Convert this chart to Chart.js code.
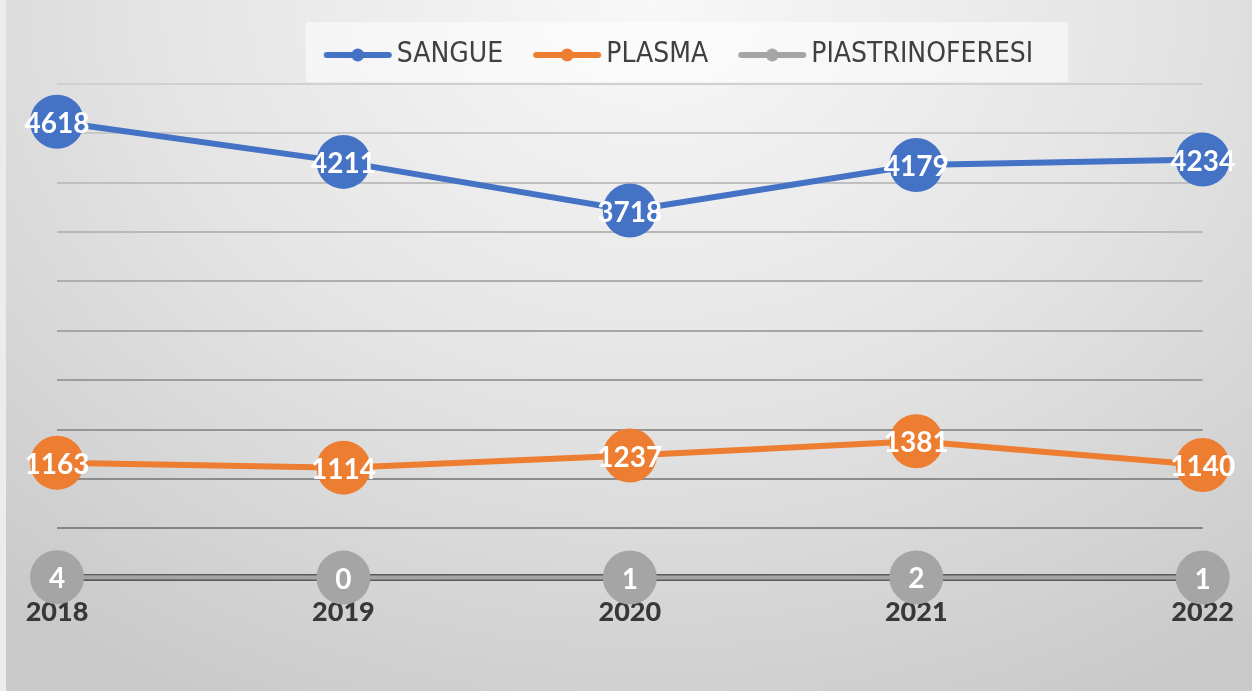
<!DOCTYPE html>
<html>
<head>
<meta charset="utf-8">
<script src="https://cdn.jsdelivr.net/npm/chart.js@4.4.1/dist/chart.umd.min.js"></script>
<style>
  html, body { margin: 0; padding: 0; }
  #wrap {
    position: relative;
    width: 1252px;
    height: 691px;
    background: radial-gradient(ellipse 80% 115% at 52% 0%, #f8f8f8 0%, #e4e4e4 50%, #c9c9c9 100%);
  }
  #wrap:before {
    content: "";
    position: absolute; left: 0; top: 0; bottom: 0; width: 6px;
    background: #ececec;
  }
  canvas { position: absolute; left: 0; top: 0; }
</style>
</head>
<body>
<div id="wrap"><canvas id="chart" width="1252" height="691"></canvas></div>
<script>
var anni = ['2018', '2019', '2020', '2021', '2022'];
var sangue = [4618, 4211, 3718, 4179, 4234];
var plasma = [1163, 1114, 1237, 1381, 1140];
var piastrinoferesi = [4, 0, 1, 2, 1];
var nomiSerie = ['SANGUE', 'PLASMA', 'PIASTRINOFERESI'];
var coloriSerie = ['#4472C4', '#ED7D31', '#A5A5A5'];
var yMin = 0, yMax = 5000, yStep = 500;

// marker for the legend: line with a dot in the middle
function legendMarker(color) {
    var c = document.createElement('canvas');
    c.width = 70; c.height = 16;
    var g = c.getContext('2d');
    g.strokeStyle = color;
    g.lineWidth = 6;
    g.lineCap = 'round';
    g.beginPath(); g.moveTo(4, 8); g.lineTo(66, 8); g.stroke();
    g.fillStyle = color;
    g.beginPath(); g.arc(35, 8, 6.5, 0, Math.PI * 2); g.fill();
    return c;
}

function gridShade(v) {
    var t = (v - yStep) / (yMax - yStep);
    var g = Math.round(132 + t * (208 - 132));
    return 'rgb(' + g + ',' + g + ',' + g + ')';
}

var valueLabels = {
    id: 'valueLabels',
    afterDatasetsDraw: function (chart) {
        var ctx = chart.ctx;
        ctx.save();
        ctx.font = '700 28px Lato';
        ctx.fillStyle = '#ffffff';
        ctx.textAlign = 'center';
        ctx.textBaseline = 'middle';
        chart.data.datasets.forEach(function (ds, i) {
            var meta = chart.getDatasetMeta(i);
            meta.data.forEach(function (el, j) {
                ctx.fillText(String(ds.data[j]), el.x, el.y + 2);
            });
        });
        ctx.restore();
    }
};

var legendBox = {
    id: 'legendBox',
    afterLayout: function (chart) {
        var lg = chart.legend;
        lg.left += 52; lg.right += 52;
        lg.top -= 5; lg.bottom -= 5;
    },
    beforeDraw: function (chart) {
        var lg = chart.legend;
        var hb = lg.legendHitBoxes;
        if (!hb || !hb.length) return;
        var last = hb[hb.length - 1];
        var ctx = chart.ctx;
        ctx.save();
        ctx.fillStyle = 'rgba(255,255,255,0.5)';
        ctx.fillRect(hb[0].left - 27, 22, last.left + last.width - hb[0].left + 62, 60);
        ctx.restore();
    }
};

var datasets = [sangue, plasma, piastrinoferesi].map(function (d, i) {
    return {
        label: nomiSerie[i],
        data: d,
        borderColor: coloriSerie[i],
        backgroundColor: coloriSerie[i],
        pointBackgroundColor: coloriSerie[i],
        pointBorderWidth: 0,
        pointRadius: 27,
        pointHoverRadius: 27,
        borderWidth: i === 2 ? 4 : 6,
        tension: 0,
        clip: false
    };
});

new Chart(document.getElementById('chart').getContext('2d'), {
    type: 'line',
    data: { labels: anni, datasets: datasets },
    options: {
        responsive: false,
        animation: false,
        layout: { padding: { left: 57, right: 47, top: 7, bottom: 45 } },
        plugins: {
            tooltip: { enabled: false },
            legend: {
                position: 'top',
                labels: {
                    usePointStyle: true,
                    pointStyleWidth: 50,
                    padding: 39,
                    color: '#404040',
                    font: { family: '"Liberation Sans Narrow", "DejaVu Sans Condensed", "Open Sans"', size: 28 },
                    generateLabels: function (chart) {
                        var items = Chart.defaults.plugins.legend.labels.generateLabels(chart);
                        items.forEach(function (it) {
                            it.pointStyle = legendMarker(coloriSerie[it.datasetIndex]);
                        });
                        return items;
                    }
                }
            }
        },
        scales: {
            x: {
                offset: false,
                grid: { display: false, drawTicks: false },
                border: { display: false },
                ticks: {
                    padding: 18,
                    color: '#383838',
                    font: { family: 'Lato', weight: '900', size: 27 }
                }
            },
            y: {
                min: yMin,
                max: yMax,
                ticks: { display: false, stepSize: yStep },
                border: { display: false },
                grid: {
                    drawTicks: false,
                    color: function (c) {
                        return c.tick.value === 0 ? '#5a5a5a' : gridShade(c.tick.value);
                    },
                    lineWidth: function (c) {
                        return c.tick.value === 0 ? 7 : 2;
                    }
                }
            }
        }
    },
    plugins: [valueLabels, legendBox]
});
</script>
</body>
</html>
